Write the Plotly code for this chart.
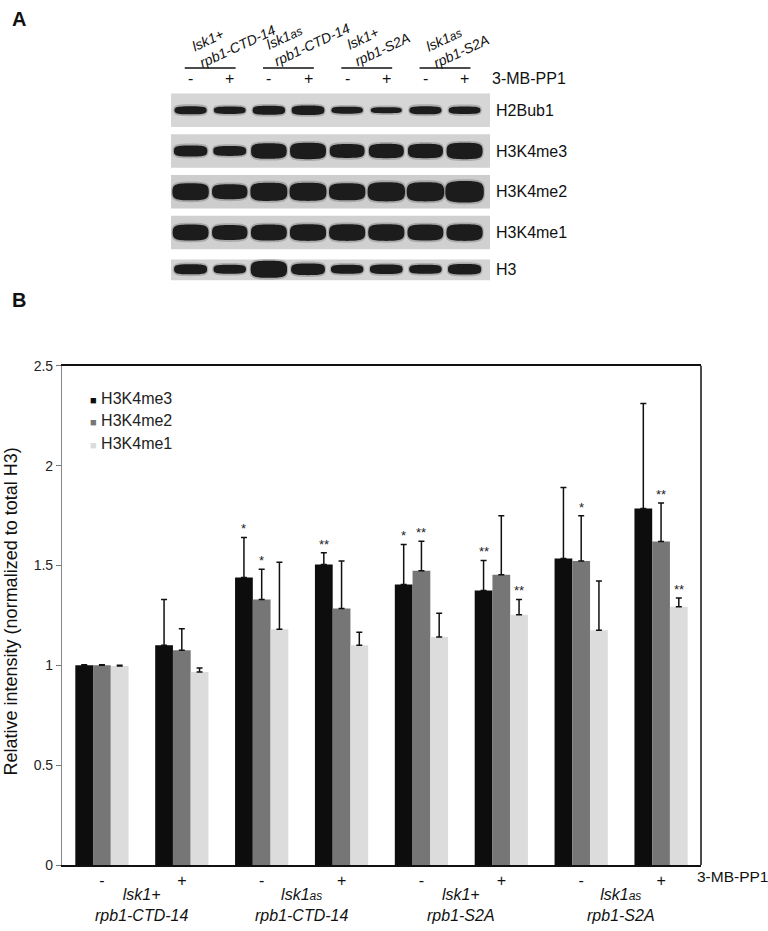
import plotly.graph_objects as go

# ---------------- data ----------------
treatment = ["-", "+", "-", "+", "-", "+", "-", "+"]
strains = ["<i>lsk1+<br>rpb1-CTD-14</i>",
           "<i>lsk1<span style='font-size:12px'>as</span><br>rpb1-CTD-14</i>",
           "<i>lsk1+<br>rpb1-S2A</i>",
           "<i>lsk1<span style='font-size:12px'>as</span><br>rpb1-S2A</i>"]
series = ["H3K4me3", "H3K4me2", "H3K4me1"]
colors = ["#0d0d0d", "#767676", "#dcdcdc"]

me3 = [1.0, 1.10, 1.44, 1.505, 1.405, 1.375, 1.535, 1.785]
me2 = [1.0, 1.075, 1.33, 1.284, 1.473, 1.453, 1.522, 1.62]
me1 = [0.997, 0.966, 1.18, 1.10, 1.142, 1.253, 1.175, 1.293]
me3_err = [0.003, 0.23, 0.20, 0.058, 0.20, 0.15, 0.355, 0.526]
me2_err = [0.003, 0.108, 0.151, 0.238, 0.148, 0.296, 0.227, 0.193]
me1_err = [0.003, 0.02, 0.336, 0.066, 0.119, 0.077, 0.247, 0.044]
me3_sig = ["", "", "*", "**", "*", "**", "", ""]
me2_sig = ["", "", "*", "", "**", "", "*", "**"]
me1_sig = ["", "", "", "", "", "**", "", "**"]

# western blot (panel A): relative band strength per lane (estimated)
blot_rows = ["H2Bub1", "H3K4me3", "H3K4me2", "H3K4me1", "H3"]
band_h2bub1 = [0.50, 0.45, 0.55, 0.58, 0.42, 0.36, 0.50, 0.46]
band_me3 = [0.68, 0.60, 0.95, 1.00, 0.85, 0.88, 0.88, 1.00]
band_me2 = [1.05, 0.92, 1.12, 1.12, 1.05, 1.18, 1.18, 1.32]
band_me1 = [0.98, 0.92, 0.98, 1.02, 1.02, 1.02, 0.98, 1.02]
band_h3 = [0.62, 0.55, 1.05, 0.72, 0.55, 0.58, 0.55, 0.65]

values = [me3, me2, me1]
errors = [me3_err, me2_err, me1_err]
sigs = [me3_sig, me2_sig, me1_sig]
bands = [band_h2bub1, band_me3, band_me2, band_me1, band_h3]

W, H = 768, 931
FONT = "Liberation Sans, Arial, Helvetica, sans-serif"

fig = go.Figure()
xs = list(range(len(treatment)))
for name, col, v, e in zip(series, colors, values, errors):
    fig.add_trace(go.Bar(
        x=xs, y=v, name=name, marker=dict(color=col, line=dict(width=0)),
        error_y=dict(type="data", array=e, arrayminus=[0] * len(e), symmetric=False,
                     color="#111", thickness=1.5, width=3),
        showlegend=False, xaxis="x", yaxis="y"))

ann = []
shapes = []
# significance stars
offsets = [-2 / 9, 0, 2 / 9]
for k, (v, e, s) in enumerate(zip(values, errors, sigs)):
    for i in xs:
        if s[i]:
            ann.append(dict(x=i + offsets[k], y=v[i] + e[i], xref="x", yref="y", text=s[i],
                            showarrow=False, yanchor="bottom", yshift=-1,
                            font=dict(size=13, color="#222", family=FONT)))
# legend (manual, compact)
for k, (name, col) in enumerate(zip(series, colors)):
    ann.append(dict(x=88 / W, y=1 - (397 + 23 * k) / H, xref="paper", yref="paper",
                    xanchor="left", yanchor="middle", showarrow=False,
                    text=f"<span style='color:{col};font-size:11px'>■</span> {name}",
                    font=dict(size=16, color="#222", family=FONT)))
# x-axis extra labels
ann.append(dict(x=695 / W, y=1 - 884 / H, xref="paper", yref="paper", xanchor="left",
                yanchor="middle", showarrow=False, text="3-MB-PP1",
                font=dict(size=15.5, color="#111", family=FONT)))
for g, lab in enumerate(strains):
    ann.append(dict(x=2 * g + 0.5, y=1 - 913 / H, xref="x", yref="paper", xanchor="center",
                    yanchor="middle", showarrow=False, text=lab,
                    font=dict(size=16, color="#111", family=FONT)))
# y title
ann.append(dict(x=11 / W, y=1 - 614 / H, xref="paper", yref="paper", textangle=-90,
                xanchor="center", yanchor="middle",
                showarrow=False, text="Relative intensity (normalized to total H3)",
                font=dict(size=18, color="#111", family=FONT)))
# panel letters
ann.append(dict(x=10 / W, y=1 - 11 / H, xref="paper", yref="paper", xanchor="left",
                yanchor="middle", showarrow=False, text="<b>A</b>",
                font=dict(size=20, color="#111", family=FONT)))
ann.append(dict(x=10 / W, y=1 - 297 / H, xref="paper", yref="paper", xanchor="left",
                yanchor="middle", showarrow=False, text="<b>B</b>",
                font=dict(size=20, color="#111", family=FONT)))
# right frame line
shapes.append(dict(type="line", xref="x domain", yref="y domain", x0=1, x1=1, y0=0, y1=1,
                   line=dict(color="#111", width=1.5)))


def band_path(xc, yc, a, b, k=0.85):
    return (f"M {xc - a},{yc} "
            f"C {xc - a},{yc - k * b} {xc - k * a},{yc - b} {xc},{yc - b} "
            f"C {xc + k * a},{yc - b} {xc + a},{yc - k * b} {xc + a},{yc} "
            f"C {xc + a},{yc + k * b} {xc + k * a},{yc + b} {xc},{yc + b} "
            f"C {xc - k * a},{yc + b} {xc - a},{yc + k * b} {xc - a},{yc} Z")


# ---------------- panel A (blot) on lane/row axes ----------------
bg = ["#d6d6d6", "#d2d2d2", "#cdcdcd", "#d0d0d0", "#d4d4d4"]
for j, (row, b) in enumerate(zip(blot_rows, bands)):
    top, bot = (j - 0.41, j + 0.41) if j < 4 else (j - 0.34, j + 0.17)
    shapes.append(dict(type="rect", xref="x2", yref="y2", x0=-0.5, x1=7.65, y0=top, y1=bot,
                       fillcolor=bg[j], line=dict(width=0), layer="below"))
    yc = j if j < 4 else j - 0.1
    for i, s in enumerate(b):
        a = (0.72 + 0.2 * s) / 2
        hb = 0.40 * s / 2
        shapes.append(dict(type="path", xref="x2", yref="y2",
                           path=band_path(i, yc, a + 0.03, hb + 0.045),
                           fillcolor="rgba(30,30,30,0.22)", line=dict(width=0)))
        shapes.append(dict(type="path", xref="x2", yref="y2",
                           path=band_path(i, yc, a, hb),
                           fillcolor="#1c1c1c", line=dict(width=0)))
    ann.append(dict(x=7.75, y=yc, xref="x2", yref="y2", xanchor="left", yanchor="middle",
                    showarrow=False, text=row, font=dict(size=16, color="#111", family=FONT)))

for i, t in enumerate(treatment):
    ann.append(dict(x=i, y=-0.77, xref="x2", yref="y2", showarrow=False, text=t,
                    font=dict(size=16, color="#111", family=FONT)))
ann.append(dict(x=7.65, y=-0.77, xref="x2", yref="y2", xanchor="left", showarrow=False,
                text="3-MB-PP1", font=dict(size=16, color="#111", family=FONT)))
centers = [(1.1, -1.76), (3.0, -1.83), (4.8, -1.69), (6.81, -1.64)]
for g, lab in enumerate(strains):
    shapes.append(dict(type="line", xref="x2", yref="y2", x0=2 * g - 0.15, x1=2 * g + 1.15,
                       y0=-1.036, y1=-1.036, line=dict(color="#111", width=1.5)))
    cx, cy = centers[g]
    ann.append(dict(x=cx, y=cy, xref="x2", yref="y2", showarrow=False, text=lab,
                    textangle=-25, align="left",
                    font=dict(size=14, color="#111", family=FONT)))

fig.update_layout(
    width=W, height=H, autosize=False,
    margin=dict(l=0, r=0, t=0, b=0),
    paper_bgcolor="white", plot_bgcolor="rgba(0,0,0,0)",
    barmode="group", bargap=1 / 3, bargroupgap=0,
    font=dict(family=FONT, color="#111"),
    xaxis=dict(domain=[62 / W, 701 / W], range=[-0.5, 7.5], tickmode="array",
               tickvals=xs, ticktext=treatment, ticks="", showgrid=False, zeroline=False,
               showline=True, linecolor="#111", linewidth=1.5, mirror=True,
               tickfont=dict(size=16, color="#111"), anchor="y"),
    yaxis=dict(domain=[1 - 872 / H, 1 - 364 / H], range=[0, 2.5], dtick=0.5,
               ticks="outside", ticklen=5, tickcolor="#777",
               showline=True, linecolor="#888", linewidth=1.2, showgrid=False,
               zeroline=False, tickfont=dict(size=14, color="#222"), anchor="x"),
    xaxis2=dict(domain=[0, 1], range=[-190.6 / 39.14, (W - 190.6) / 39.14], visible=False,
                anchor="y2"),
    yaxis2=dict(domain=[0, 1], range=[(H - 104) / 41.5, -104 / 41.5], visible=False,
                anchor="x2"),
    annotations=ann, shapes=shapes,
)

fig.write_html("out.html", config={"displayModeBar": False},
               post_script="document.body.style.margin='0';document.body.style.overflow='hidden';")
